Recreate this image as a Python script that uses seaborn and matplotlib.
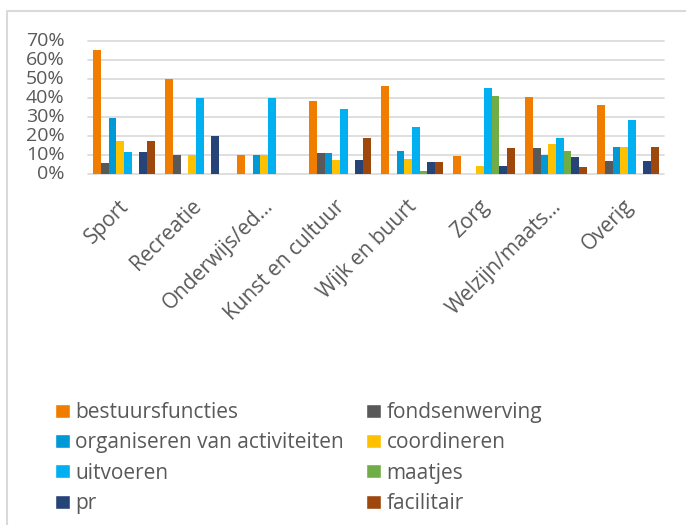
import numpy as np
import pandas as pd
import matplotlib
matplotlib.use("Agg")
import matplotlib.pyplot as plt
import matplotlib.transforms as mtransforms
from matplotlib.patches import Patch
from matplotlib.lines import Line2D
from matplotlib.ticker import PercentFormatter
import seaborn as sns

# ---- Data ----
categories = ["Sport", "Recreatie", "Onderwijs/ed\u2026", "Kunst en cultuur",
              "Wijk en buurt", "Zorg", "Welzijn/maats\u2026", "Overig"]
series = ["bestuursfuncties", "fondsenwerving", "organiseren van activiteiten",
          "coordineren", "uitvoeren", "maatjes", "pr", "facilitair"]

bestuursfuncties = [0.65, 0.50, 0.10, 0.385, 0.46, 0.093, 0.405, 0.36]
fondsenwerving = [0.056, 0.098, 0.0, 0.112, 0.0, 0.0, 0.138, 0.068]
organiseren = [0.292, 0.0, 0.098, 0.112, 0.123, 0.0, 0.102, 0.14]
coordineren = [0.175, 0.098, 0.098, 0.075, 0.08, 0.044, 0.156, 0.14]
uitvoeren = [0.114, 0.397, 0.397, 0.343, 0.247, 0.45, 0.191, 0.284]
maatjes = [0.0, 0.0, 0.0, 0.0, 0.0175, 0.408, 0.121, 0.0]
pr = [0.114, 0.198, 0.0, 0.075, 0.061, 0.044, 0.0875, 0.068]
facilitair = [0.175, 0.0, 0.0, 0.189, 0.061, 0.135, 0.035, 0.14]

colors = ["#F07D00", "#595959", "#0099D8", "#FFC000",
          "#00B0F0", "#70AD47", "#264478", "#9E480E"]

values = [bestuursfuncties, fondsenwerving, organiseren, coordineren,
          uitvoeren, maatjes, pr, facilitair]

rows = []
for name, vals in zip(series, values):
    for cat, v in zip(categories, vals):
        rows.append({"categorie": cat, "activiteit": name, "aandeel": v})
df = pd.DataFrame(rows)

# ---- Plot ----
sns.set_style("white")
plt.rcParams["font.family"] = ["Open Sans", "DejaVu Sans"]
text_color = "#595959"
grid_color = "#D9D9D9"

W, H = 686, 525
fig = plt.figure(figsize=(W / 100, H / 100), dpi=100)
ax = fig.add_axes([88 / W, 1 - 174 / H, (664 - 88) / W, (174 - 40.7) / H])

sns.barplot(data=df, x="categorie", y="aandeel", hue="activiteit",
            hue_order=series, order=categories, palette=colors,
            saturation=1, width=0.85, linewidth=0, ax=ax, legend=False)

ax.set_ylim(0, 0.70)
ax.set_yticks(np.arange(0, 0.71, 0.10))
ax.yaxis.set_major_formatter(PercentFormatter(1.0, decimals=0))
ax.grid(axis="y", color=grid_color, linewidth=1.2, clip_on=False)
ax.set_axisbelow(True)
for s in ax.spines.values():
    s.set_visible(False)
ax.set_xlabel("")
ax.set_ylabel("")
ax.tick_params(axis="both", length=0, colors=text_color)
ax.tick_params(axis="y", labelsize=14, pad=17)
ax.tick_params(axis="x", labelsize=15, pad=21)
plt.setp(ax.get_xticklabels(), rotation=45, ha="right", va="center",
         rotation_mode="anchor")
shift = mtransforms.ScaledTranslation(2 / 100, 0, fig.dpi_scale_trans)
for lbl in ax.get_xticklabels():
    lbl.set_transform(lbl.get_transform() + shift)
for lbl in ax.get_yticklabels():
    lbl.set_verticalalignment("center")

# Legend, row-major order like the original (two columns)
order = [0, 2, 4, 6, 1, 3, 5, 7]
handles = [Patch(facecolor=colors[i], label=series[i]) for i in order]
leg = fig.legend(handles=handles, ncol=2, loc="upper left",
                 bbox_to_anchor=(45 / W, 1 - 391.5 / H), frameon=False,
                 borderpad=0, fontsize=15, handlelength=0.72, handleheight=0.67,
                 handletextpad=0.24, labelspacing=0.45, columnspacing=1.07)
for t in leg.get_texts():
    t.set_color(text_color)

# Chart frame (cropped on the right and bottom)
fig.add_artist(Line2D([7 / W, 7 / W, 1.0], [0.0, 1 - 11 / H, 1 - 11 / H],
                      transform=fig.transFigure, color=grid_color, linewidth=1.5))

fig.savefig("out.png", dpi=100)
